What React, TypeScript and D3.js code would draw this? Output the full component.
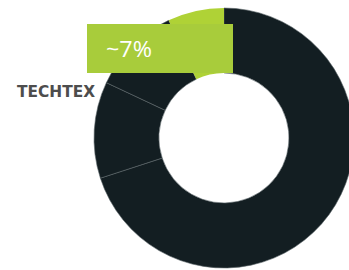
import React, { useEffect, useRef } from 'react';
import * as d3 from 'd3';

const segments = ['Main', 'Segment B', 'TECHTEX', 'Highlight'];
const shares = [70, 12, 11, 7];
const sliceColors = ['#131e22', '#131e22', '#131e22', '#afd236'];
const calloutText = '~7%';
const sideLabel = 'TECHTEX';

const App = () => {
  const svgRef = useRef<SVGSVGElement>(null);

  useEffect(() => {
    const width = 349;
    const height = 270;
    const cx = 224;
    const cy = 138;

    const svg = d3.select(svgRef.current)
      .attr('width', width)
      .attr('height', height)
      .style('position', 'absolute')
      .style('left', 0)
      .style('top', 0);

    svg.selectAll('*').remove();

    const data = segments.map((name, i) => ({ name, value: shares[i], color: sliceColors[i] }));

    const pie = d3.pie<any>()
      .sort(null)
      .value(d => d.value);

    const arc = d3.arc<any>()
      .innerRadius(65)
      .outerRadius(130);

    svg.append('g')
      .attr('transform', `translate(${cx},${cy})`)
      .selectAll('path')
      .data(pie(data))
      .join('path')
      .attr('d', arc)
      .attr('fill', d => d.data.color)
      .attr('stroke', d => d.data.color === '#131e22' ? '#5c6669' : 'none')
      .attr('stroke-width', 0.6);

    // callout box
    svg.append('rect')
      .attr('x', 87)
      .attr('y', 24)
      .attr('width', 146)
      .attr('height', 49)
      .attr('fill', '#a8cc3b');

    svg.append('text')
      .attr('x', 106)
      .attr('y', 57)
      .attr('fill', '#ffffff')
      .attr('font-family', 'Open Sans, sans-serif')
      .attr('font-size', 22)
      .attr('textLength', 46)
      .attr('lengthAdjust', 'spacingAndGlyphs')
      .text(calloutText);

    svg.append('text')
      .attr('x', 17)
      .attr('y', 97)
      .attr('fill', '#4d4d4d')
      .attr('font-family', 'DejaVu Sans, sans-serif')
      .attr('font-weight', 'bold')
      .attr('font-size', 15)
      .attr('textLength', 78)
      .attr('lengthAdjust', 'spacingAndGlyphs')
      .text(sideLabel);
  }, []);

  return <svg ref={svgRef} />;
};

export default App;
